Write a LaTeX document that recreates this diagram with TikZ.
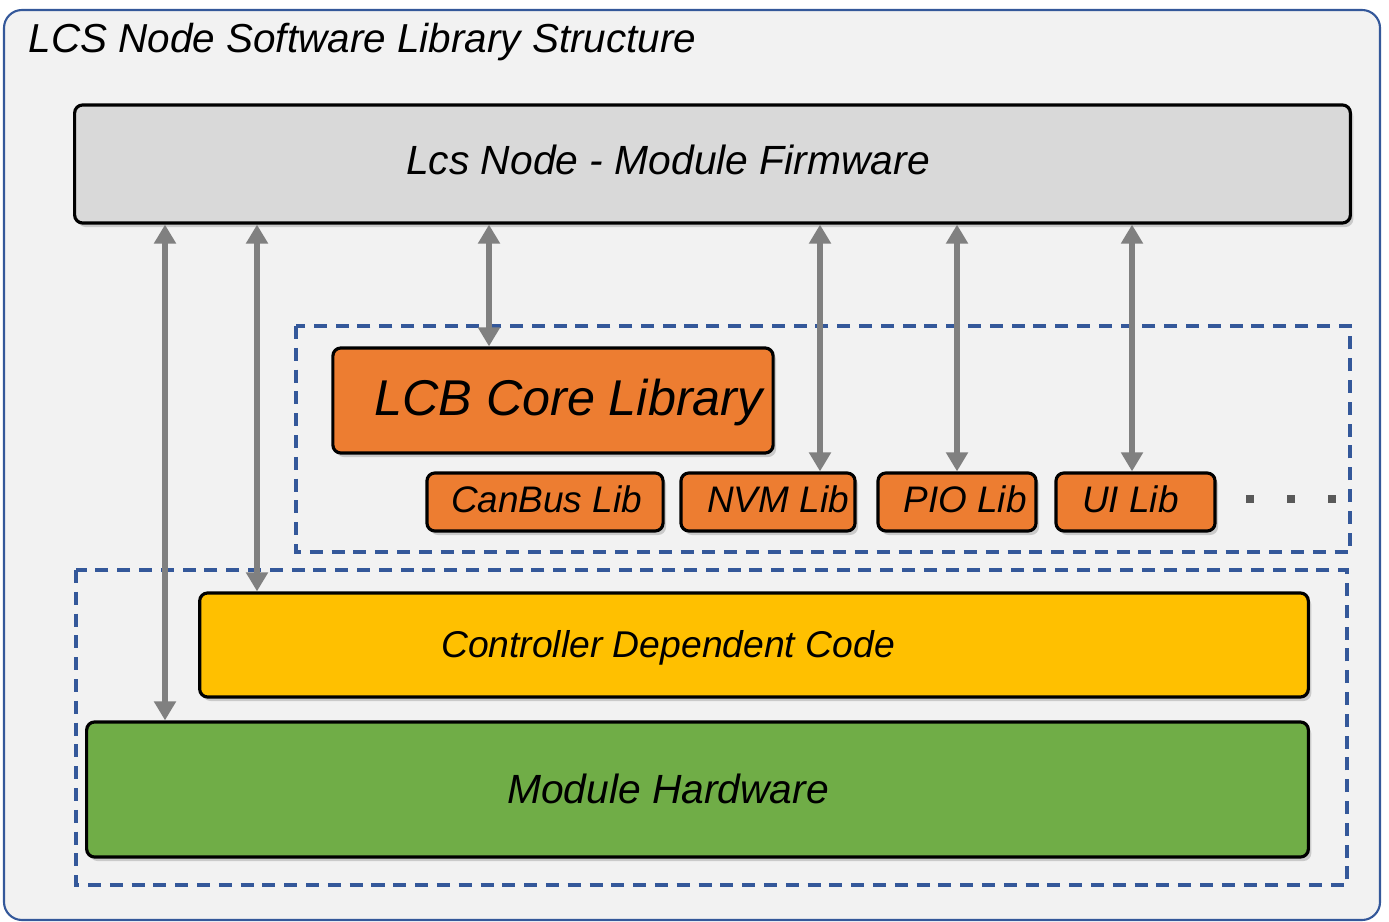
\documentclass[tikz,border=0pt]{standalone}
\usepackage{fontspec}
\setmainfont{Liberation Sans}
\usepackage{xcolor}
\usetikzlibrary{positioning}
\usetikzlibrary{arrows.meta}
\usetikzlibrary{shadows}

\definecolor{lcsbg}{HTML}{F2F2F2}
\definecolor{lcsblue}{RGB}{52,88,154}
\definecolor{fwgray}{HTML}{D9D9D9}
\definecolor{lcborange}{HTML}{ED7D31}
\definecolor{ctrlyellow}{HTML}{FFC000}
\definecolor{hwgreen}{HTML}{70AD47}
\definecolor{linkgray}{HTML}{808080}
\definecolor{dotgray}{HTML}{595959}

\tikzset{
  layer/.style={draw=black, line width=0.9pt, rounded corners=0.08cm,
    drop shadow={shadow xshift=0.03cm, shadow yshift=-0.04cm, opacity=0.35}},
  libbox/.style={layer, fill=lcborange, minimum height=0.58cm},
  grouping/.style={draw=lcsblue, line width=0.95pt, dash pattern=on 3.7pt off 2.5pt},
  link/.style={draw=linkgray, line width=1.5pt,
    {Triangle[length=5.4pt,width=6pt]}-{Triangle[length=5.4pt,width=6pt]}},
  lbl/.style={anchor=base, inner sep=0pt, font=\itshape},
}

\begin{document}
\begin{tikzpicture}[x=0.01cm, y=-0.01cm]
          \useasboundingbox (0,0) rectangle (1389,922);
          \draw[draw=lcsblue, fill=lcsbg, line width=0.6pt, rounded corners=0.18cm] (4,10) rectangle (1380,920);
          \node[lbl, anchor=base west, font=\itshape\fontsize{11.5}{14}\selectfont] (title) at (28,53) {LCS Node Software Library Structure};

          \draw[grouping] (296,326) rectangle (1350,552);
          \draw[grouping] (76,570) rectangle (1347,885);

          \node[layer, fill=fwgray, minimum width=12.75cm, minimum height=1.18cm] (fw) at (712.5,164) {};
          \node[lbl, font=\itshape\fontsize{11.6}{14}\selectfont] (fwtxt) at (668,175) {Lcs Node - Module Firmware};

          \node[layer, fill=lcborange, minimum width=4.4cm, minimum height=1.05cm] (lcb) at (553,400.5) {};
          \node[lbl, font=\itshape\fontsize{14.3}{17}\selectfont] (lcbtxt) at (568.5,416) {LCB Core Library};

          \node[libbox, minimum width=2.36cm] (canbus) at (545,502) {};
          \node[libbox, minimum width=1.74cm] (nvm) at (768,502) {};
          \node[libbox, minimum width=1.58cm] (pio) at (957,502) {};
          \node[libbox, minimum width=1.59cm] (ui) at (1135.5,502) {};
          \node[lbl, font=\itshape\fontsize{10.5}{13}\selectfont] (canbustxt) at (546.5,512) {CanBus Lib};
          \node[lbl, font=\itshape\fontsize{10.5}{13}\selectfont] (nvmtxt) at (778,512) {NVM Lib};
          \node[lbl, font=\itshape\fontsize{10.5}{13}\selectfont] (piotxt) at (965,512) {PIO Lib};
          \node[lbl, font=\itshape\fontsize{10.5}{13}\selectfont] (uitxt) at (1130.5,512) {UI Lib};
          \foreach \x in {1250,1291,1332} {
            \fill[dotgray] (\x-4,495) rectangle (\x+4,503);
          }

          \node[layer, fill=ctrlyellow, minimum width=11.08cm, minimum height=1.04cm] (ctrl) at (754,645) {};
          \node[lbl, font=\itshape\fontsize{10.6}{13}\selectfont] (ctrltxt) at (668,657) {Controller Dependent Code};

          \node[layer, fill=hwgreen, minimum width=12.21cm, minimum height=1.35cm] (hw) at (697.5,789.5) {};
          \node[lbl, font=\itshape\fontsize{11.6}{14}\selectfont] (hwtxt) at (668,803) {Module Hardware};

          \foreach \x/\target in {165/hw, 257/ctrl, 489/lcb, 820/nvm, 957/pio, 1132/ui} {
            \coordinate (x\target) at (\x,0);
            \draw[link] (fw.south -| x\target) -- (\target.north -| x\target);
          }
        \end{tikzpicture}
\end{document}
